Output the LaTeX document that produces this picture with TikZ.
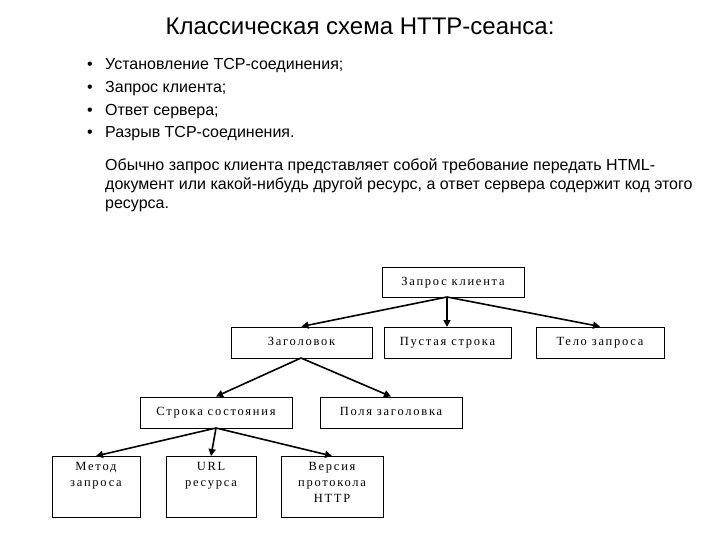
\documentclass[tikz,border=0pt]{standalone}
\usepackage{fontspec}
\setmainfont{Liberation Sans}
\newfontfamily\boxfont[LetterSpace=14]{Liberation Serif}
\usetikzlibrary{arrows.meta}
\tikzset{
  box/.style={draw, line width=1pt, inner sep=0pt, font=\boxfont\fontsize{12.5}{16}\selectfont, align=center, text height=9pt, text depth=3pt},
  boxtxt/.style={inner sep=0pt, anchor=north, font=\boxfont\fontsize{12.5}{16}\selectfont, align=center},
  arr/.style={-{Triangle[length=7pt,width=7pt]}, line width=1.6pt},
  txt/.style={inner sep=0pt, anchor=base west, font=\fontsize{16}{22}\selectfont}
}
\begin{document}
\begin{tikzpicture}[x=1pt,y=-1pt]
\useasboundingbox (0,0) rectangle (720,540);
% title
\node[inner sep=0pt, anchor=base, font=\fontsize{24}{28}\selectfont] (title) at (360,35) {Классическая схема HTTP-сеанса:};
% bullets
\node[txt] (b1) at (105,70) {Установление TCP-соединения;};
\node[txt] (b2) at (105,92.7) {Запрос клиента;};
\node[txt] (b3) at (105,115.3) {Ответ сервера;};
\node[txt] (b4) at (105,138) {Разрыв TCP-соединения.};
\foreach \y/\n in {70/d1,92.7/d2,115.3/d3,138/d4}{\node[txt] (\n) at (87,\y) {•};}
\node[txt] (p1) at (105,170.5) {Обычно запрос клиента представляет собой требование передать HTML-};
\node[txt] (p2) at (105,189.5) {документ или какой-нибудь другой ресурс, а ответ сервера содержит код этого};
\node[txt] (p3) at (105,208.5) {ресурса.};
% boxes
\node[box, minimum width=142pt, minimum height=30pt] (req) at (453,282) {Запрос клиента};
\node[box, minimum width=141pt, minimum height=31pt] (hdr) at (301.5,342.5) {Заголовок};
\node[box, minimum width=127pt, minimum height=31pt] (empty) at (447.5,342.5) {Пустая строка};
\node[box, minimum width=128pt, minimum height=31pt] (body) at (600,342.5) {Тело запроса};
\node[box, minimum width=152pt, minimum height=31pt] (status) at (216,412.5) {Строка состояния};
\node[box, minimum width=142pt, minimum height=31pt] (fields) at (391,412.5) {Поля заголовка};
\node[box, minimum width=88pt, minimum height=61pt, anchor=north] (method) at (96,456) {};
\node[box, minimum width=90pt, minimum height=61pt, anchor=north] (url) at (211,456) {};
\node[box, minimum width=102pt, minimum height=61pt, anchor=north] (ver) at (332,456) {};
\node[boxtxt] (methodt) at (96,462) {Метод\\запроса};
\node[boxtxt] (urlt) at (211,462) {URL\\ресурса};
\node[boxtxt] (vert) at (332,462) {Версия\\протокола\\HTTP};
% connectors
\coordinate (r0) at (447,297);
\draw[arr] (r0) -- (hdr.north);
\draw[arr] (r0) -- (447,327);
\draw[arr] (r0) -- (body.north);
\coordinate (h0) at (301,358);
\draw[arr] (h0) -- (status.north);
\draw[arr] (h0) -- (fields.north);
\coordinate (s0) at (216,428);
\draw[arr] (s0) -- (method.north);
\draw[arr] (s0) -- (url.north);
\draw[arr] (s0) -- (ver.north);
\end{tikzpicture}
\end{document}
